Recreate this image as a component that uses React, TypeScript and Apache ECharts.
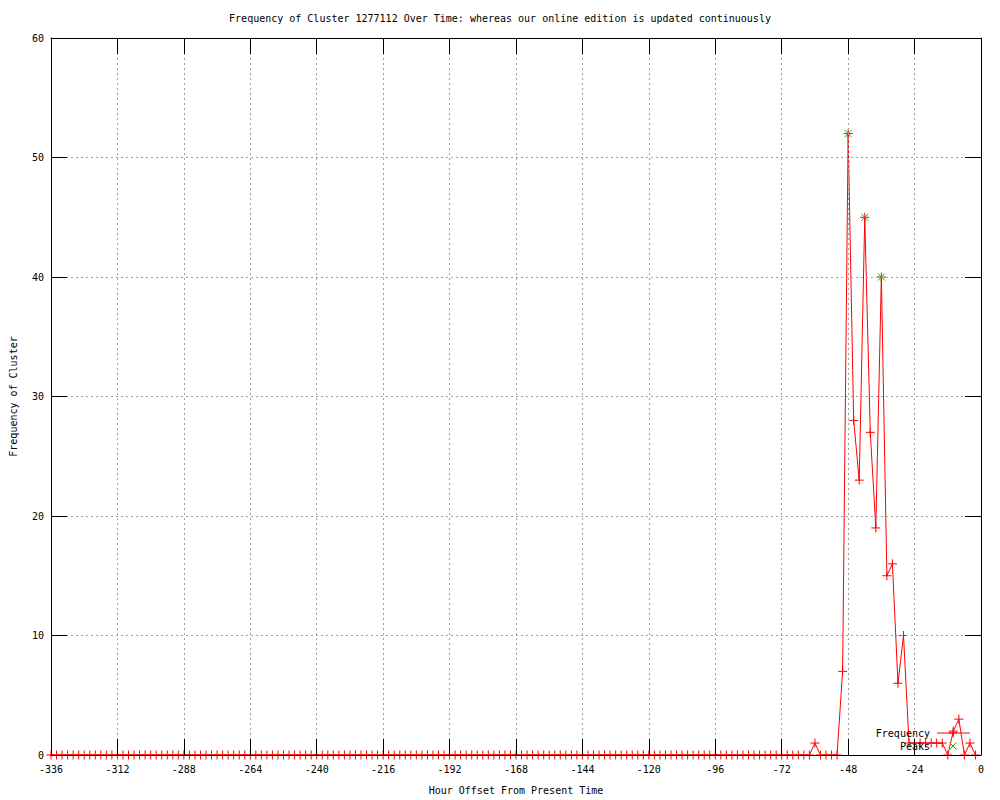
import React, { useEffect, useRef } from "react";
import * as echarts from "echarts";

const titleText =
  "Frequency of Cluster 1277112 Over Time: whereas our online edition is updated continuously";
const xAxisName = "Hour Offset From Present Time";
const yAxisName = "Frequency of Cluster";

const hours = [
  -336, -334, -332, -330, -328, -326, -324, -322, -320, -318, -316, -314,
  -312, -310, -308, -306, -304, -302, -300, -298, -296, -294, -292, -290,
  -288, -286, -284, -282, -280, -278, -276, -274, -272, -270, -268, -266,
  -264, -262, -260, -258, -256, -254, -252, -250, -248, -246, -244, -242,
  -240, -238, -236, -234, -232, -230, -228, -226, -224, -222, -220, -218,
  -216, -214, -212, -210, -208, -206, -204, -202, -200, -198, -196, -194,
  -192, -190, -188, -186, -184, -182, -180, -178, -176, -174, -172, -170,
  -168, -166, -164, -162, -160, -158, -156, -154, -152, -150, -148, -146,
  -144, -142, -140, -138, -136, -134, -132, -130, -128, -126, -124, -122,
  -120, -118, -116, -114, -112, -110, -108, -106, -104, -102, -100, -98,
  -96, -94, -92, -90, -88, -86, -84, -82, -80, -78, -76, -74,
  -72, -70, -68, -66, -64, -62, -60, -58, -56, -54, -52, -50,
  -48, -46, -44, -42, -40, -38, -36, -34, -32, -30, -28, -26,
  -24, -22, -20, -18, -16, -14, -12, -10, -8, -6, -4, -2,
];

const frequency = [
  0, 0, 0, 0, 0, 0, 0, 0, 0, 0, 0, 0,
  0, 0, 0, 0, 0, 0, 0, 0, 0, 0, 0, 0,
  0, 0, 0, 0, 0, 0, 0, 0, 0, 0, 0, 0,
  0, 0, 0, 0, 0, 0, 0, 0, 0, 0, 0, 0,
  0, 0, 0, 0, 0, 0, 0, 0, 0, 0, 0, 0,
  0, 0, 0, 0, 0, 0, 0, 0, 0, 0, 0, 0,
  0, 0, 0, 0, 0, 0, 0, 0, 0, 0, 0, 0,
  0, 0, 0, 0, 0, 0, 0, 0, 0, 0, 0, 0,
  0, 0, 0, 0, 0, 0, 0, 0, 0, 0, 0, 0,
  0, 0, 0, 0, 0, 0, 0, 0, 0, 0, 0, 0,
  0, 0, 0, 0, 0, 0, 0, 0, 0, 0, 0, 0,
  0, 0, 0, 0, 0, 0, 1, 0, 0, 0, 0, 7,
  52, 28, 23, 45, 27, 19, 40, 15, 16, 6, 10, 1,
  1, 1, 1, 1, 1, 1, 0, 2, 3, 0, 1, 0,
];

const peakHours = [-48, -42, -36];
const peakValues = [52, 45, 40];

const xTicks = { min: -336, max: 0, interval: 24 };
const yTicks = { min: 0, max: 60, interval: 10 };

const FONT = "DejaVu Sans Mono";
const RED = "#ff0000";
const GREEN = "#00c000";
const PLUS = "path://M0,4.5L9,4.5M4.5,0L4.5,9";
const CROSS = "path://M0,0L7,7M7,0L0,7";

export default function App() {
  const ref = useRef<HTMLDivElement>(null);

  useEffect(() => {
    if (!ref.current) return;
    const chart = echarts.init(ref.current, undefined, { renderer: "svg" });

    const freqData = hours.map((h, i) => [h, frequency[i]]);
    const peakData = peakHours.map((h, i) => [h, peakValues[i]]);

    const gridLine = {
      show: true,
      lineStyle: { color: "#a0a0a0", width: 1, type: [2, 3] as any },
    };
    const border = { show: true, onZero: false, lineStyle: { color: "#000", width: 1 } };
    const tick = { show: true, inside: true, length: 16, lineStyle: { color: "#000" } };
    const labelFont = { fontFamily: FONT, fontSize: 10, color: "#000" };

    const legX = 953;
    const legY1 = 733;
    const legY2 = 746;

    chart.setOption({
      animation: false,
      backgroundColor: "#fff",
      title: {
        text: titleText,
        left: "center",
        top: 8,
        textStyle: { fontFamily: FONT, fontSize: 10, fontWeight: "normal", color: "#000" },
      },
      grid: { left: 49, top: 38, width: 932, height: 722, containLabel: false },
      xAxis: [
        {
          type: "value",
          position: "bottom",
          ...xTicks,
          name: xAxisName,
          nameLocation: "middle",
          nameGap: 30,
          nameTextStyle: labelFont,
          axisLine: border,
          axisTick: tick,
          axisLabel: { ...labelFont, margin: 9 },
          splitLine: gridLine,
          z: 5,
        },
        {
          type: "value",
          position: "top",
          ...xTicks,
          axisLine: border,
          axisTick: tick,
          axisLabel: { show: false },
          splitLine: { show: false },
          z: 5,
        },
      ],
      yAxis: [
        {
          type: "value",
          position: "left",
          ...yTicks,
          name: yAxisName,
          nameLocation: "middle",
          nameGap: 33,
          nameTextStyle: labelFont,
          axisLine: border,
          axisTick: tick,
          axisLabel: { ...labelFont, margin: 7 },
          splitLine: gridLine,
          z: 5,
        },
        {
          type: "value",
          position: "right",
          ...yTicks,
          axisLine: border,
          axisTick: tick,
          axisLabel: { show: false },
          splitLine: { show: false },
          z: 5,
        },
      ],
      series: [
        {
          name: "Frequency",
          type: "line",
          data: freqData,
          xAxisIndex: 0,
          yAxisIndex: 0,
          symbol: PLUS,
          symbolSize: 9,
          showSymbol: true,
          showAllSymbol: true,
          lineStyle: { color: RED, width: 1 },
          itemStyle: { color: "rgba(0,0,0,0)", borderColor: RED, borderWidth: 1 },
          emphasis: { disabled: true },
          z: 3,
        },
        {
          name: "Peaks",
          type: "line",
          data: peakData,
          xAxisIndex: 0,
          yAxisIndex: 0,
          symbol: CROSS,
          symbolSize: 7,
          showSymbol: true,
          lineStyle: { width: 0, opacity: 0 },
          itemStyle: { color: "rgba(0,0,0,0)", borderColor: GREEN, borderWidth: 1 },
          emphasis: { disabled: true },
          z: 4,
        },
      ],
      graphic: [
        {
          type: "text",
          x: 930,
          y: legY1,
          style: {
            text: "Frequency",
            fontFamily: FONT,
            fontSize: 10,
            fill: "#000",
            align: "right",
            verticalAlign: "middle",
          },
          z: 10,
        },
        {
          type: "line",
          shape: { x1: 937, y1: legY1, x2: 970, y2: legY1 },
          style: { stroke: RED, lineWidth: 1 },
          z: 10,
        },
        {
          type: "line",
          shape: { x1: legX - 4.5, y1: legY1, x2: legX + 4.5, y2: legY1 },
          style: { stroke: RED, lineWidth: 1 },
          z: 10,
        },
        {
          type: "line",
          shape: { x1: legX, y1: legY1 - 4.5, x2: legX, y2: legY1 + 4.5 },
          style: { stroke: RED, lineWidth: 1 },
          z: 10,
        },
        {
          type: "text",
          x: 930,
          y: legY2,
          style: {
            text: "Peaks",
            fontFamily: FONT,
            fontSize: 10,
            fill: "#000",
            align: "right",
            verticalAlign: "middle",
          },
          z: 10,
        },
        {
          type: "line",
          shape: { x1: legX - 3.5, y1: legY2 - 3.5, x2: legX + 3.5, y2: legY2 + 3.5 },
          style: { stroke: GREEN, lineWidth: 1 },
          z: 10,
        },
        {
          type: "line",
          shape: { x1: legX + 3.5, y1: legY2 - 3.5, x2: legX - 3.5, y2: legY2 + 3.5 },
          style: { stroke: GREEN, lineWidth: 1 },
          z: 10,
        },
      ],
    });

    return () => chart.dispose();
  }, []);

  return (
    <div
      ref={ref}
      style={{ position: "fixed", left: 0, top: 0, width: 1000, height: 800, background: "#fff" }}
    />
  );
}
